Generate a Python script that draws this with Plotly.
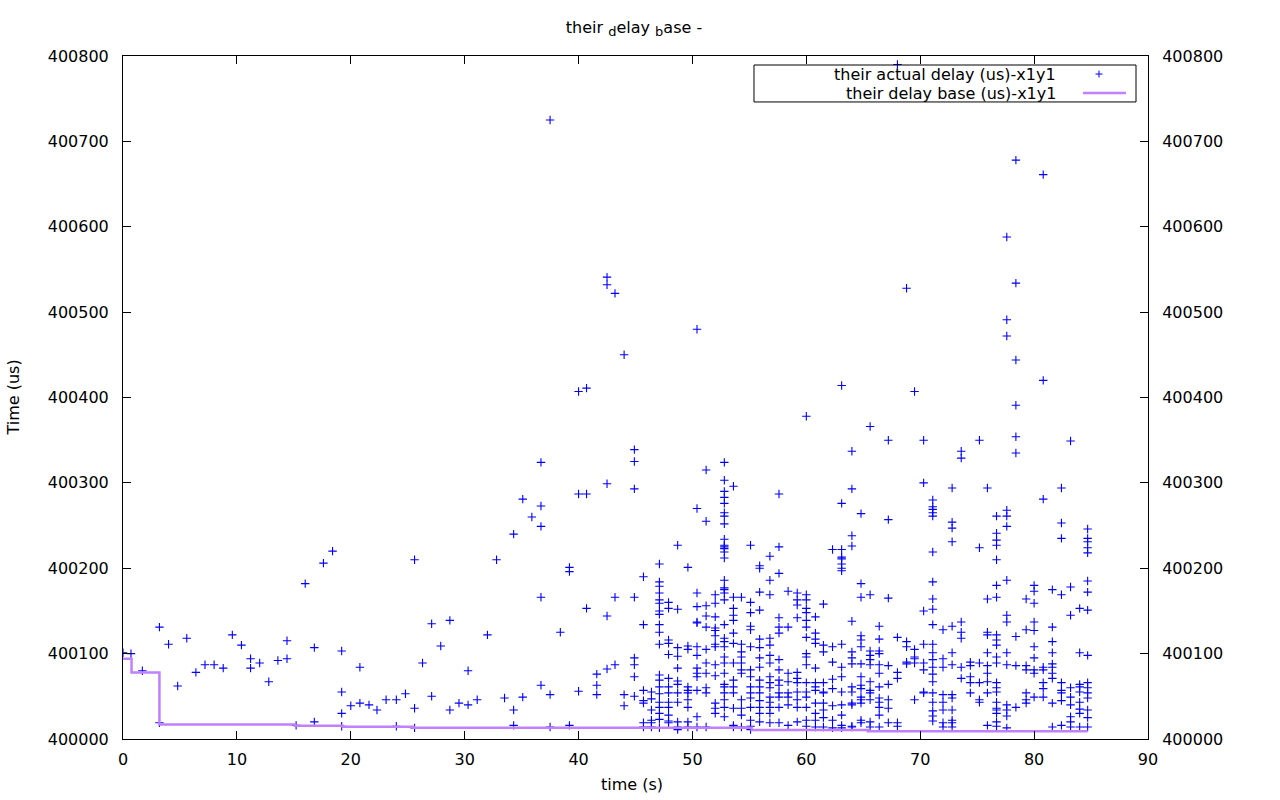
import plotly.graph_objects as go

# ---- data ----
BASE_US = 400000  # delays are listed as excess above this value

# actual delay samples: (time s, [delay - 400000 us ...])
actual_columns = [
    (0.0, [101]), (0.7, [100]), (1.7, [80]), (3.2, [131, 19]), (4.0, [111]),
    (4.8, [62]), (5.6, [118]), (6.4, [78]), (7.2, [87]), (8.0, [87]), (8.8, [83]),
    (9.6, [122]), (10.4, [110]), (11.2, [94, 83]), (12.0, [89]), (12.8, [67]),
    (13.6, [92]), (14.4, [115, 94]), (15.2, [16]), (16.0, [182]), (16.8, [107, 20]),
    (17.6, [206]), (18.4, [220]), (19.2, [103, 55, 30, 15]), (20.0, [39]),
    (20.8, [84, 42]), (21.6, [40]), (22.3, [34]), (23.1, [46]), (24.0, [46, 15]),
    (24.8, [53]), (25.6, [210, 36, 13]), (26.3, [89]), (27.1, [135, 50]),
    (27.9, [109]), (28.7, [139, 34]), (29.5, [42]), (30.3, [80, 40]), (31.1, [46]),
    (32.0, [122]), (32.8, [210]), (33.5, [48]), (34.3, [240, 34, 16]),
    (35.1, [281, 49]), (35.9, [260]), (36.7, [324, 273, 249, 166, 63]),
    (37.5, [725, 52, 14]), (38.4, [125]), (39.2, [201, 196, 16]),
    (40.0, [407, 287, 56]), (40.7, [411, 287, 153]), (41.6, [76, 63, 52]),
    (42.5, [541, 532, 299, 144, 82]), (43.2, [522, 166, 87]), (44.0, [450, 52, 39]),
    (44.9, [339, 325, 293, 166, 95, 87, 73, 50]),
    (45.7, [190, 134, 57, 45, 42, 19, 14]),
    (46.4, [55, 47, 34, 22, 19, 14]),
    (47.1, [205, 184, 179, 171, 163, 159, 150, 146, 134, 125, 111, 75, 69, 61, 53, 43, 37, 30, 23, 13]),
    (47.9, [160, 153, 116, 112, 99, 71, 61, 54, 43, 37, 28, 21, 19]),
    (48.7, [227, 152, 107, 97, 83, 68, 64, 54, 43, 20, 14, 11]),
    (49.6, [201, 109, 105, 61, 57, 54, 46, 37, 20, 14]),
    (50.4, [480, 270, 171, 155, 137, 136, 108, 98, 83, 77, 73, 57, 26, 14]),
    (51.2, [315, 255, 156, 144, 131, 105, 89, 77, 60, 54, 14]),
    (52.0, [169, 159, 143, 130, 127, 121, 111, 108, 87, 74, 42, 36, 30]),
    (52.8, [324, 303, 290, 283, 276, 265, 261, 252, 234, 227, 225, 223, 219, 212, 186, 177,
            175, 171, 163, 134, 118, 114, 108, 96, 89, 77, 64, 61, 54, 46, 37, 26]),
    (53.6, [296, 166, 153, 145, 139, 124, 112, 89, 69, 61, 54, 36, 16, 14]),
    (54.3, [166, 111, 102, 96, 89, 81, 77, 46, 36, 28, 14]),
    (55.1, [227, 160, 148, 132, 128, 108, 81, 73, 61, 54, 48, 37, 22, 15, 11]),
    (55.9, [203, 200, 172, 151, 117, 107, 95, 84, 69, 61, 54, 45, 37, 30, 20]),
    (56.8, [214, 186, 169, 118, 110, 98, 89, 73, 66, 60, 49, 43, 37, 30, 19]),
    (57.6, [287, 225, 194, 142, 131, 124, 93, 81, 69, 63, 54, 49, 37, 19]),
    (58.4, [173, 131, 77, 67, 54, 49, 40, 16]),
    (59.2, [171, 163, 157, 142, 78, 71, 66, 55, 46, 37, 20]),
    (60.0, [378, 169, 163, 153, 148, 139, 131, 119, 100, 96, 87, 66, 55, 49, 37, 22, 15]),
    (60.8, [143, 124, 117, 112, 83, 66, 61, 57, 42, 30, 22, 14]),
    (61.5, [158, 110, 102, 66, 55, 54, 42, 34, 25, 14]),
    (62.3, [222, 108, 90, 70, 59, 39, 22, 13]),
    (63.1, [414, 276, 222, 213, 211, 205, 200, 197, 111, 84, 73, 55, 40, 28, 16, 13]),
    (64.0, [337, 293, 238, 226, 138, 102, 95, 88, 61, 55, 42, 40, 15, 14]),
    (64.8, [264, 182, 166, 121, 116, 108, 88, 73, 63, 59, 49, 46, 42, 22, 19]),
    (65.6, [366, 169, 103, 98, 93, 87, 67, 57, 54, 46, 20, 14]),
    (66.4, [132, 117, 103, 100, 87, 77, 61, 48, 43, 37, 28, 14]),
    (67.2, [350, 257, 165, 86, 64, 46, 36, 19]),
    (68.0, [790, 119, 78, 71, 19, 15]),
    (68.8, [528, 114, 108, 90, 88]),
    (69.5, [407, 105, 96, 94, 89, 46]),
    (70.3, [350, 300, 150, 111, 89, 81, 55, 54]),
    (71.1, [280, 272, 269, 265, 261, 219, 184, 164, 152, 134, 111, 101, 93, 84, 76, 67, 54,
            43, 33, 27, 21]),
    (72.0, [128, 94, 84, 52, 43, 34, 19, 14]),
    (72.8, [294, 254, 247, 231, 132, 101, 87, 52, 48, 34, 22, 19, 14]),
    (73.6, [337, 329, 137, 125, 118, 84, 71]),
    (74.4, [90, 86, 73, 66, 54]),
    (75.2, [350, 224, 89, 66, 46, 43]),
    (75.9, [294, 164, 125, 122, 101, 86, 77, 67, 54, 16]),
    (76.7, [261, 241, 233, 227, 210, 180, 166, 122, 116, 110, 96, 89, 66, 60, 55, 43, 36,
            34, 30, 20, 15]),
    (77.6, [588, 491, 472, 268, 261, 249, 186, 145, 137, 101, 87, 40, 34, 27, 13]),
    (78.4, [678, 534, 444, 391, 354, 335, 120, 86, 37]),
    (79.3, [164, 128, 86, 81, 54, 46, 42]),
    (80.0, [180, 173, 159, 137, 127, 108, 95, 81, 77, 49]),
    (80.8, [661, 420, 281, 84, 81, 66, 59, 49]),
    (81.6, [175, 131, 114, 101, 88, 84, 77, 71, 42, 14]),
    (82.4, [294, 253, 235, 169, 66, 57, 54, 45, 16]),
    (83.2, [349, 178, 145, 60, 49, 40, 26, 20, 14]),
    (84.0, [153, 101, 64, 61, 55, 43, 35, 30, 14]),
    (84.7, [246, 235, 231, 224, 218, 185, 172, 151, 98, 66, 60, 54, 48, 34, 25, 14]),
]

# delay base (step line)
base_time = [0.0, 0.75, 3.2, 15.1, 19.3, 25.5, 55.2, 65.4, 84.7]
base_delay = [94, 78, 17, 15.5, 14.4, 13.2, 10.5, 9.2, 9.2]

x_ticks = [0, 10, 20, 30, 40, 50, 60, 70, 80, 90]
y_ticks = [400000, 400100, 400200, 400300, 400400, 400500, 400600, 400700, 400800]

# ---- build ----
actual_t = []
actual_d = []
for t, vals in actual_columns:
    for v in vals:
        actual_t.append(t)
        actual_d.append(BASE_US + v)
base_d = [BASE_US + v for v in base_delay]

FONT = "DejaVu Sans"
BLUE = "#0000ff"
PURPLE = "#c080ff"

fig = go.Figure()
fig.add_trace(go.Scatter(
    x=actual_t, y=actual_d, mode="markers", name="their actual delay (us)-x1y1",
    marker=dict(symbol="cross-thin", size=6, line=dict(color=BLUE, width=1.1), color=BLUE),
    showlegend=False,
))
fig.add_trace(go.Scatter(
    x=base_time, y=base_d, mode="lines", name="their delay base (us)-x1y1",
    line=dict(color=PURPLE, width=2.5, shape="hv"), yaxis="y2", showlegend=False,
))

axis_common = dict(
    showgrid=False, zeroline=False, showline=True, linecolor="black", linewidth=1,
    ticks="inside", ticklen=8, tickcolor="black", tickwidth=1,
    tickfont=dict(family=FONT, size=16, color="black"),
)

title_text = ("their <sub><span style='font-size:13px'>d</span></sub>elay "
              "<sub><span style='font-size:13px'>b</span></sub>ase -")

fig.update_layout(
    width=1280, height=800,
    margin=dict(l=123, r=132, t=56, b=61),
    paper_bgcolor="white", plot_bgcolor="white",
    font=dict(family=FONT, size=16, color="black"),
    title=dict(text=title_text, x=0.4953, xanchor="center",
               y=0.966, yanchor="middle", font=dict(family=FONT, size=16, color="black")),
    xaxis=dict(range=[0, 90], tickvals=x_ticks, mirror="ticks", ticklabelstandoff=6,
               **axis_common),
    yaxis=dict(range=[400000, 400800], tickvals=y_ticks, tickformat="d", mirror=False,
               ticklabelstandoff=10, **axis_common),
    yaxis2=dict(range=[400000, 400800], tickvals=y_ticks, tickformat="d", overlaying="y",
                side="right", ticklabelstandoff=10, **axis_common),
    showlegend=False,
)

# axis titles
fig.add_annotation(text="Time (us)", xref="paper", yref="paper", x=-0.1073, y=0.5,
                   textangle=-90, showarrow=False, xanchor="center", yanchor="middle",
                   font=dict(family=FONT, size=16))
fig.add_annotation(text="time (s)", xref="paper", yref="paper", x=0.4966, y=-0.0673,
                   showarrow=False, xanchor="center", yanchor="middle",
                   font=dict(family=FONT, size=16))

# custom legend (gnuplot style: text right-aligned, sample on the right)
fig.add_shape(type="rect", xref="paper", yref="paper", x0=0.6156, x1=0.9883,
              y0=0.9327, y1=0.9868, line=dict(color="black", width=1))
fig.add_annotation(text="their actual delay (us)-x1y1", xref="paper", yref="paper",
                   x=0.9122, y=0.9736, xanchor="right", yanchor="middle", showarrow=False,
                   font=dict(family=FONT, size=16))
fig.add_annotation(text="their delay base (us)-x1y1", xref="paper", yref="paper",
                   x=0.9122, y=0.9458, xanchor="right", yanchor="middle", showarrow=False,
                   font=dict(family=FONT, size=16))
cx, cy, hx, hy = 0.9522, 0.9736, 0.0034, 0.0051
fig.add_shape(type="path", xref="paper", yref="paper",
              path=f"M {cx-hx} {cy} L {cx+hx} {cy} M {cx} {cy-hy} L {cx} {cy+hy}",
              line=dict(color=BLUE, width=1))
fig.add_shape(type="line", xref="paper", yref="paper", x0=0.9366, x1=0.9785,
              y0=0.9458, y1=0.9458, line=dict(color=PURPLE, width=2.5))

fig.write_html("out.html")
